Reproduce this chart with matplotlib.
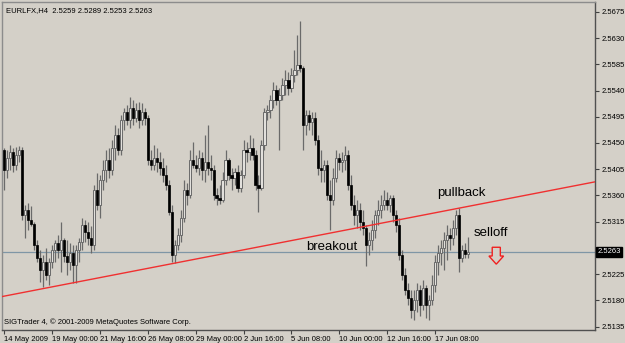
import matplotlib
matplotlib.use("Agg")
import matplotlib.pyplot as plt
from matplotlib.patches import Polygon
import matplotlib.transforms as mtrans

# --- data (EURLFX H4) ---
opens = [2.5438, 2.5404, 2.5424, 2.5435, 2.5412, 2.5429, 2.5438, 2.5326, 2.5335, 2.5318,
         2.5311, 2.5275, 2.5252, 2.5232, 2.5246, 2.5223, 2.5246, 2.5266, 2.5278, 2.5266,
         2.5283, 2.5256, 2.5246, 2.5261, 2.5240, 2.5266, 2.5280, 2.5309, 2.5297, 2.5287,
         2.5275, 2.5369, 2.5343, 2.5386, 2.5404, 2.5421, 2.5404, 2.5441, 2.5464, 2.5438,
         2.5489, 2.5503, 2.5489, 2.5510, 2.5493, 2.5507, 2.5489, 2.5503, 2.5493, 2.5421,
         2.5412, 2.5424, 2.5417, 2.5407, 2.5395, 2.5378, 2.5331, 2.5257, 2.5275, 2.5292,
         2.5321, 2.5369, 2.5361, 2.5421, 2.5412, 2.5407, 2.5424, 2.5404, 2.5417, 2.5407,
         2.5404, 2.5361, 2.5356, 2.5352, 2.5386, 2.5421, 2.5395, 2.5390, 2.5400, 2.5373,
         2.5395, 2.5438, 2.5435, 2.5441, 2.5429, 2.5378, 2.5373, 2.5447, 2.5503, 2.5507,
         2.5524, 2.5541, 2.5524, 2.5532, 2.5550, 2.5558, 2.5544, 2.5567, 2.5575, 2.5584,
         2.5579, 2.5481, 2.5498, 2.5486, 2.5493, 2.5455, 2.5407, 2.5404, 2.5412, 2.5361,
         2.5352, 2.5390, 2.5424, 2.5417, 2.5421, 2.5429, 2.5378, 2.5343, 2.5326, 2.5335,
         2.5314, 2.5304, 2.5275, 2.5283, 2.5300, 2.5326, 2.5335, 2.5343, 2.5352, 2.5343,
         2.5356, 2.5326, 2.5309, 2.5257, 2.5223, 2.5197, 2.5184, 2.5163, 2.5180, 2.5197,
         2.5172, 2.5201, 2.5172, 2.5180, 2.5206, 2.5246, 2.5262, 2.5269, 2.5283, 2.5292,
         2.5287, 2.5304, 2.5326, 2.5252, 2.5266, 2.5259]
highs = [2.5441, 2.5438, 2.5447, 2.5441, 2.5443, 2.5445, 2.5443, 2.5343, 2.5347, 2.5342,
         2.5314, 2.5283, 2.5266, 2.5257, 2.5269, 2.5252, 2.5275, 2.5283, 2.5292, 2.5314,
         2.5287, 2.5283, 2.5278, 2.5275, 2.5275, 2.5287, 2.5321, 2.5318, 2.5314, 2.5307,
         2.5378, 2.5398, 2.5395, 2.5421, 2.5438, 2.5441, 2.5455, 2.5481, 2.5476, 2.5498,
         2.5510, 2.5515, 2.5529, 2.5524, 2.5519, 2.5520, 2.5519, 2.5510, 2.5498, 2.5438,
         2.5447, 2.5441, 2.5435, 2.5424, 2.5412, 2.5386, 2.5343, 2.5283, 2.5304, 2.5335,
         2.5386, 2.5381, 2.5438, 2.5452, 2.5429, 2.5438, 2.5435, 2.5464, 2.5481, 2.5429,
         2.5412, 2.5373, 2.5378, 2.5400, 2.5438, 2.5424, 2.5407, 2.5407, 2.5412, 2.5404,
         2.5455, 2.5452, 2.5464, 2.5459, 2.5438, 2.5395, 2.5455, 2.5510, 2.5515, 2.5532,
         2.5555, 2.5550, 2.5544, 2.5562, 2.5575, 2.5572, 2.5579, 2.5610, 2.5636, 2.5660,
         2.5582, 2.5507, 2.5507, 2.5503, 2.5503, 2.5464, 2.5438, 2.5421, 2.5421, 2.5386,
         2.5407, 2.5438, 2.5433, 2.5435, 2.5445, 2.5438, 2.5395, 2.5361, 2.5352, 2.5347,
         2.5335, 2.5309, 2.5297, 2.5318, 2.5335, 2.5352, 2.5361, 2.5369, 2.5366, 2.5361,
         2.5361, 2.5335, 2.5321, 2.5266, 2.5235, 2.5209, 2.5197, 2.5197, 2.5209, 2.5206,
         2.5215, 2.5206, 2.5189, 2.5223, 2.5257, 2.5275, 2.5283, 2.5297, 2.5309, 2.5304,
         2.5318, 2.5335, 2.5338, 2.5275, 2.5278, 2.5289]
lows = [2.5369, 2.5390, 2.5404, 2.5400, 2.5404, 2.5417, 2.5318, 2.5287, 2.5300, 2.5307,
        2.5266, 2.5246, 2.5211, 2.5202, 2.5215, 2.5206, 2.5235, 2.5246, 2.5252, 2.5228,
        2.5246, 2.5223, 2.5232, 2.5209, 2.5209, 2.5246, 2.5266, 2.5280, 2.5275, 2.5262,
        2.5266, 2.5335, 2.5321, 2.5369, 2.5383, 2.5390, 2.5395, 2.5421, 2.5429, 2.5429,
        2.5472, 2.5481, 2.5476, 2.5481, 2.5486, 2.5476, 2.5481, 2.5481, 2.5412, 2.5404,
        2.5404, 2.5400, 2.5395, 2.5383, 2.5369, 2.5326, 2.5246, 2.5244, 2.5266, 2.5280,
        2.5314, 2.5343, 2.5356, 2.5407, 2.5400, 2.5395, 2.5386, 2.5383, 2.5395, 2.5386,
        2.5352, 2.5343, 2.5345, 2.5349, 2.5378, 2.5386, 2.5369, 2.5378, 2.5366, 2.5366,
        2.5390, 2.5417, 2.5421, 2.5421, 2.5369, 2.5331, 2.5369, 2.5438, 2.5489, 2.5493,
        2.5510, 2.5515, 2.5438, 2.5524, 2.5532, 2.5532, 2.5538, 2.5555, 2.5567, 2.5572,
        2.5438, 2.5464, 2.5472, 2.5464, 2.5447, 2.5395, 2.5383, 2.5383, 2.5352, 2.5300,
        2.5343, 2.5383, 2.5404, 2.5400, 2.5404, 2.5369, 2.5335, 2.5309, 2.5304, 2.5300,
        2.5292, 2.5239, 2.5257, 2.5266, 2.5287, 2.5309, 2.5321, 2.5335, 2.5335, 2.5331,
        2.5314, 2.5297, 2.5249, 2.5215, 2.5189, 2.5172, 2.5149, 2.5146, 2.5160, 2.5153,
        2.5163, 2.5149, 2.5146, 2.5172, 2.5194, 2.5223, 2.5240, 2.5232, 2.5249, 2.5266,
        2.5275, 2.5292, 2.5228, 2.5246, 2.5252, 2.5253]
closes = [2.5404, 2.5424, 2.5435, 2.5412, 2.5429, 2.5438, 2.5326, 2.5335, 2.5318, 2.5311,
          2.5275, 2.5252, 2.5232, 2.5246, 2.5223, 2.5246, 2.5266, 2.5278, 2.5266, 2.5283,
          2.5256, 2.5246, 2.5261, 2.5240, 2.5266, 2.5280, 2.5309, 2.5297, 2.5287, 2.5275,
          2.5369, 2.5343, 2.5386, 2.5404, 2.5421, 2.5404, 2.5441, 2.5464, 2.5438, 2.5489,
          2.5503, 2.5489, 2.5510, 2.5493, 2.5507, 2.5489, 2.5503, 2.5493, 2.5421, 2.5412,
          2.5424, 2.5417, 2.5407, 2.5395, 2.5378, 2.5331, 2.5257, 2.5275, 2.5292, 2.5321,
          2.5369, 2.5361, 2.5421, 2.5412, 2.5407, 2.5424, 2.5404, 2.5417, 2.5407, 2.5404,
          2.5361, 2.5356, 2.5352, 2.5386, 2.5421, 2.5395, 2.5390, 2.5400, 2.5373, 2.5395,
          2.5438, 2.5435, 2.5441, 2.5429, 2.5378, 2.5373, 2.5447, 2.5503, 2.5507, 2.5524,
          2.5541, 2.5524, 2.5532, 2.5550, 2.5558, 2.5544, 2.5567, 2.5575, 2.5584, 2.5579,
          2.5481, 2.5498, 2.5486, 2.5493, 2.5455, 2.5407, 2.5404, 2.5412, 2.5361, 2.5352,
          2.5390, 2.5424, 2.5417, 2.5421, 2.5429, 2.5378, 2.5343, 2.5326, 2.5335, 2.5314,
          2.5304, 2.5275, 2.5283, 2.5300, 2.5326, 2.5335, 2.5343, 2.5352, 2.5343, 2.5356,
          2.5326, 2.5309, 2.5257, 2.5223, 2.5197, 2.5184, 2.5163, 2.5180, 2.5197, 2.5172,
          2.5201, 2.5172, 2.5180, 2.5206, 2.5246, 2.5262, 2.5269, 2.5283, 2.5292, 2.5287,
          2.5304, 2.5326, 2.5252, 2.5266, 2.5259, 2.5263]

date_ticks = [0, 16, 32, 48, 64, 80, 96, 112, 128, 144]
date_labels = ["14 May 2009", "19 May 00:00", "21 May 16:00", "26 May 08:00",
               "29 May 00:00", "2 Jun 16:00", "5 Jun 08:00", "10 Jun 00:00",
               "12 Jun 16:00", "17 Jun 08:00"]
price_ticks = [2.5135, 2.5180, 2.5225, 2.5270, 2.5315, 2.5360, 2.5405,
               2.5450, 2.5495, 2.5540, 2.5585, 2.5630, 2.5675]
last_price = 2.5263
trend_pts = [(0, 2.5187), (197, 2.5383)]

bg = "#d4d0c8"
small_font = ["Liberation Sans", "DejaVu Sans"]

fig = plt.figure(figsize=(6.25, 3.43), dpi=100, facecolor=bg)
ax = fig.add_axes([2 / 625, 13 / 343, 593 / 625, 328 / 343], facecolor=bg)

n = len(closes)
xs = list(range(n))
bull = [c >= o for o, c in zip(opens, closes)]

# wicks
ax.vlines(xs, lows, highs, colors="#6a6a6a", linewidth=0.9, zorder=2)
# bodies
bottoms = [min(o, c) for o, c in zip(opens, closes)]
heights = [max(abs(c - o), 0.00008) for o, c in zip(opens, closes)]
ax.bar([x for x, b in zip(xs, bull) if b], [h for h, b in zip(heights, bull) if b],
       bottom=[y for y, b in zip(bottoms, bull) if b], width=0.7,
       color="#e2e0dc", edgecolor="#6a6a6a", linewidth=0.7, zorder=3)
ax.bar([x for x, b in zip(xs, bull) if not b], [h for h, b in zip(heights, bull) if not b],
       bottom=[y for y, b in zip(bottoms, bull) if not b], width=0.7,
       color="black", edgecolor="black", linewidth=0.5, zorder=3)

# lines
ax.axhline(last_price, color="#7f96a6", linewidth=0.9, zorder=1)
ax.axline(trend_pts[0], trend_pts[1], color="#f03030", linewidth=1.0, zorder=4)

# sell arrow
arrow = Polygon([(163.0, 2.5271), (165.7, 2.5271), (165.7, 2.5256), (166.8, 2.5256),
                 (164.35, 2.5242), (161.9, 2.5256), (163.0, 2.5256)],
                closed=True, facecolor=bg, edgecolor="#f02020", linewidth=1.0, zorder=5)
ax.add_patch(arrow)

# labels on chart
lbl = dict(family=["Liberation Sans", "DejaVu Sans"], fontsize=9.5, color="black", va="center")
ax.text(144.6, 2.5364, "pullback", **lbl)
ax.text(156.8, 2.5296, "selloff", **lbl)
ax.text(101.0, 2.5271, "breakout", **lbl)

small = dict(family=small_font, fontsize=5.5, color="black")
ax.text(0.006, 0.985, "EURLFX,H4  2.5259 2.5289 2.5253 2.5263", transform=ax.transAxes,
        va="top", ha="left", **small)
ax.text(0.003, 0.012, "SIGTrader 4, \u00a9 2001-2009 MetaQuotes Software Corp.",
        transform=ax.transAxes, va="bottom", ha="left", **small)

ax.set_xlim(-0.6, 197.3)
ax.set_ylim(2.5129, 2.5692)

ax.yaxis.tick_right()
ax.set_yticks(price_ticks)
# the 2.5270 label sits under the last-price box
ax.set_yticklabels(["" if abs(p - 2.5270) < 1e-6 else f"{p:.4f}" for p in price_ticks])
ax.set_xticks(date_ticks)
ax.set_xticklabels(date_labels, ha="left")
ax.tick_params(axis="both", labelsize=5.5, length=3, width=0.8, color="#404040",
               direction="out", pad=1.5)
for t in ax.get_xticklabels() + ax.get_yticklabels():
    t.set_family(small_font)

trans = mtrans.blended_transform_factory(ax.transAxes, ax.transData)
ax.text(1.004, last_price, f"{last_price:.4f}", transform=trans, ha="left", va="center",
        fontsize=5.5, family=small_font, color="white", zorder=10,
        bbox=dict(boxstyle="square,pad=0.2", facecolor="black", edgecolor="black"))

for side in ["left", "top"]:
    ax.spines[side].set_color("#8c8c8c")
for side in ["right", "bottom"]:
    ax.spines[side].set_color("#505050")
for s in ax.spines.values():
    s.set_linewidth(1.0)

fig.savefig("out.png", dpi=100, facecolor=bg)
